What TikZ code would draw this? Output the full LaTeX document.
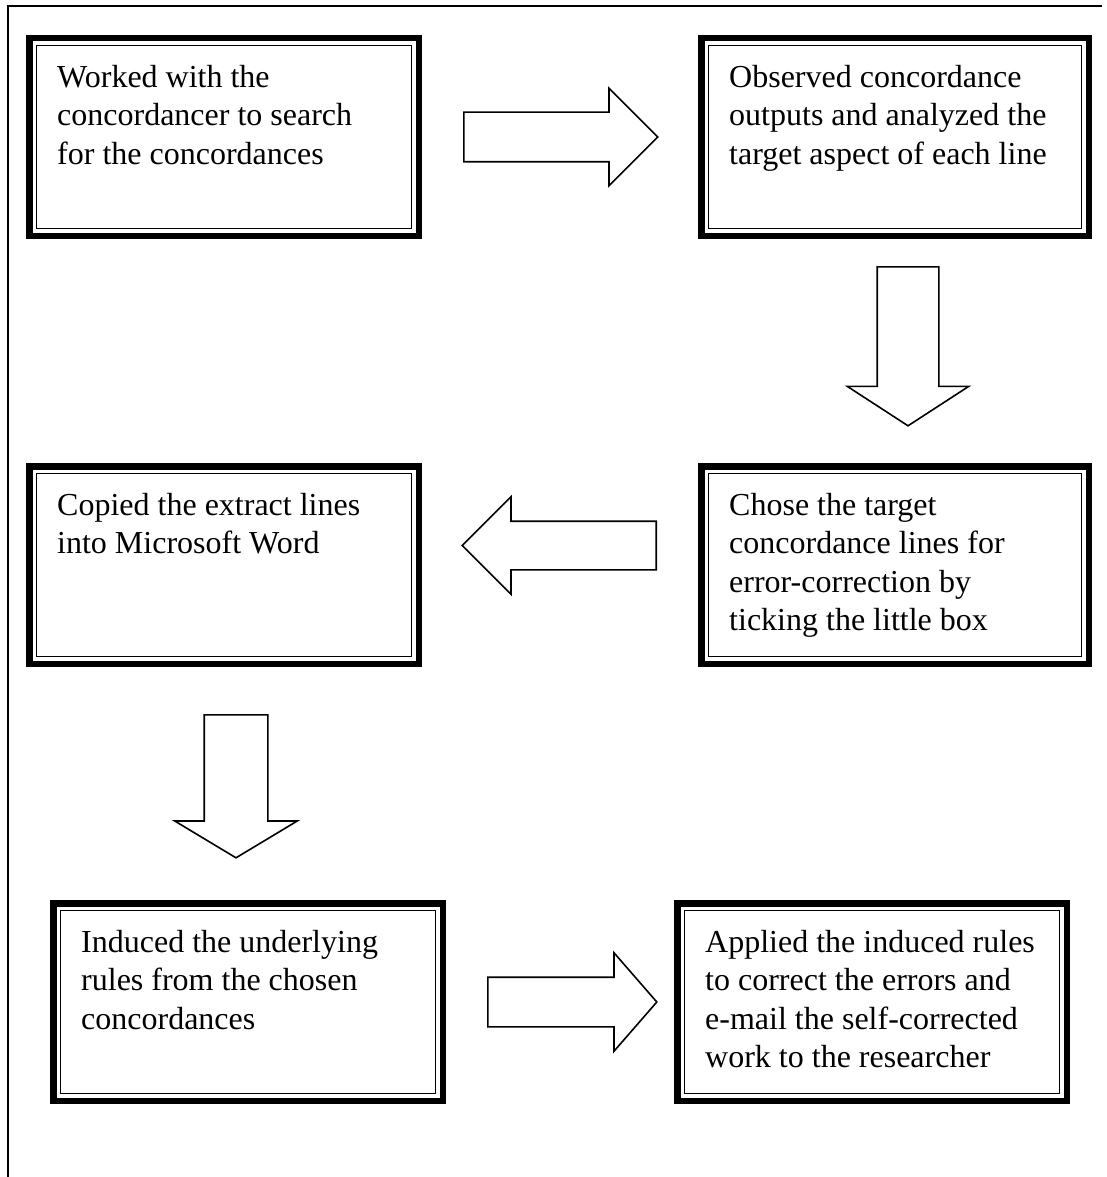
\documentclass[tikz,border=0pt]{standalone}
\usepackage{fontspec}
\setmainfont{Liberation Serif}
\usetikzlibrary{shapes.arrows,calc}
\begin{document}
\begin{tikzpicture}[x=1pt,y=-1pt,
  box/.style={draw=none, anchor=north west, minimum width=396pt, minimum height=204pt, inner sep=0pt, outer sep=0pt},
  txt/.style={anchor=north west, align=left, inner sep=0pt, font=\fontsize{32}{38.5}\selectfont},
  blockarrow/.style={single arrow, draw=black, line width=1.6pt, fill=white, single arrow head indent=0pt, anchor=tail},
  thickframe/.style={line width=6.5pt},
  thinframe/.style={line width=1.8pt},
  pageframe/.style={line width=1.7pt}
]
\useasboundingbox (0,0) rectangle (1107,1177);

% page frame (top and left sides only)
\coordinate (fR) at (1102,6);
\coordinate (fC) at (8,6);
\coordinate (fB) at (8,1177);
\draw[pageframe] (fR) -- (fC) -- (fB);

% boxes
\node[box] (b1) at (26,35) {};
\node[box, minimum width=394pt] (b2) at (698,35) {};
\node[box] (b3) at (26,463) {};
\node[box, minimum width=394pt] (b4) at (698,463) {};
\node[box] (b5) at (50,900) {};
\node[box] (b6) at (674,900) {};

\foreach \n in {b1,b2,b3,b4,b5,b6}{
  \draw[thickframe] ($(\n.north west)+(3.25,3.25)$) rectangle ($(\n.south east)+(-3.25,-3.25)$);
  \draw[thinframe] ($(\n.north west)+(10.5,10.5)$) rectangle ($(\n.south east)+(-10.5,-10.5)$);
}

% texts
\node[txt] (t1) at ($(b1.north west)+(31,25)$) {\strut Worked with the\\concordancer to search\\for the concordances};
\node[txt] (t2) at ($(b2.north west)+(31,25)$) {\strut Observed concordance\\outputs and analyzed the\\target aspect of each line};
\node[txt] (t3) at ($(b3.north west)+(31,25)$) {\strut Copied the extract lines\\into Microsoft Word};
\node[txt] (t4) at ($(b4.north west)+(31,25)$) {\strut Chose the target\\concordance lines for\\error-correction by\\ticking the little box};
\node[txt] (t5) at ($(b5.north west)+(31,25)$) {\strut Induced the underlying\\rules from the chosen\\concordances};
\node[txt] (t6) at ($(b6.north west)+(31,25)$) {\strut Applied the induced rules\\to correct the errors and\\e-mail the self-corrected\\work to the researcher};

% block arrows
\node[blockarrow, inner sep=24pt, minimum height=194pt, single arrow head extend=24pt, single arrow tip angle=90] (a1) at (463,137) {};
\node[blockarrow, inner sep=30pt, shape border rotate=270, minimum height=159pt, single arrow head extend=30pt, single arrow tip angle=114] (a2) at (908,266) {};
\node[blockarrow, inner sep=23.5pt, shape border rotate=180, minimum height=194pt, single arrow head extend=24.5pt, single arrow tip angle=90] (a3) at (657,545.5) {};
\node[blockarrow, inner sep=31pt, shape border rotate=270, minimum height=143pt, single arrow head extend=29.5pt, single arrow tip angle=118] (a4) at (236,714) {};
\node[blockarrow, inner sep=24pt, minimum height=169pt, single arrow head extend=24.5pt, single arrow tip angle=98] (a5) at (487,1002) {};
\end{tikzpicture}
\end{document}
